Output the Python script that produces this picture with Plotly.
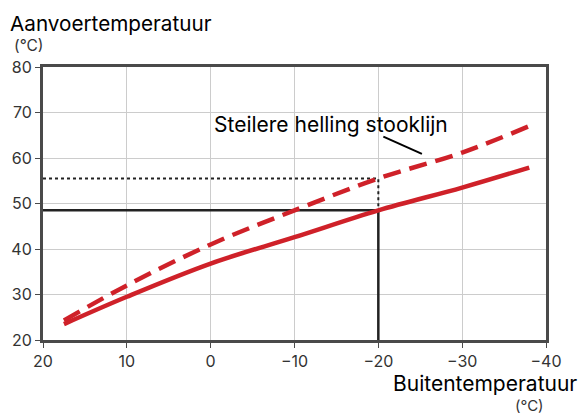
import plotly.graph_objects as go

# Outdoor temperature (°C) and supply temperature (°C) for the two heating curves
outdoor = [17.5, 10, 0, -10, -20, -30, -38]
curve_normal = [23.5, 29.5, 36.8, 42.6, 48.5, 53.5, 57.9]
curve_steep = [24.3, 32.0, 41.0, 48.5, 55.5, 61.2, 67.0]

# Design point readings
design_outdoor = -20
design_normal = 48.5
design_steep = 55.5

x_ticks = [20, 10, 0, -10, -20, -30, -40]
y_ticks = [20, 30, 40, 50, 60, 70, 80]

RED = "#cf2129"
DARK = "#222222"
FRAME = "#4a4a4a"
FONT = "Inter"

fig = go.Figure()

# Reference lines for the design point
fig.add_trace(go.Scatter(
    x=[20, design_outdoor, design_outdoor], y=[design_steep, design_steep, design_normal],
    mode="lines", line=dict(color=DARK, width=2, dash="3px,3px"), hoverinfo="skip"))
fig.add_trace(go.Scatter(
    x=[20, design_outdoor, design_outdoor], y=[design_normal, design_normal, 20],
    mode="lines", line=dict(color=DARK, width=2.5), hoverinfo="skip"))

fig.add_trace(go.Scatter(
    x=outdoor, y=curve_normal, mode="lines", line=dict(color=RED, width=4.5, shape="spline")))
fig.add_trace(go.Scatter(
    x=outdoor, y=curve_steep, mode="lines",
    line=dict(color=RED, width=4.5, dash="18px,9px", shape="spline")))

# Label with leader line
fig.add_shape(type="line", x0=-20.6, y0=64.7, x1=-25.2, y1=60.9,
              line=dict(color="black", width=2))
fig.add_annotation(x=-14.3, y=67.3, text="Steilere helling stooklijn", showarrow=False,
                   font=dict(family=FONT, size=21, color="black"), xanchor="center", yanchor="middle")

# Axis titles and units
fig.add_annotation(xref="paper", yref="paper", x=-0.07, y=1.16, text="Aanvoertemperatuur",
                   showarrow=False, xanchor="left", yanchor="middle",
                   font=dict(family=FONT, size=20.7, color="black"))
fig.add_annotation(xref="paper", yref="paper", x=-0.062, y=1.077, text="(°C)",
                   showarrow=False, xanchor="left", yanchor="middle",
                   font=dict(family=FONT, size=15.5, color="#333333"))
fig.add_annotation(xref="paper", yref="paper", x=1.066, y=-0.16, text="Buitentemperatuur",
                   showarrow=False, xanchor="right", yanchor="middle",
                   font=dict(family=FONT, size=21, color="black"))
fig.add_annotation(xref="paper", yref="paper", x=1.0, y=-0.24, text="(°C)",
                   showarrow=False, xanchor="right", yanchor="middle",
                   font=dict(family=FONT, size=15, color="#333333"))

fig.update_xaxes(range=[20, -40], tickvals=x_ticks, showgrid=True, gridcolor="#cccccc", gridwidth=1,
                 showline=True, linecolor=FRAME, linewidth=3, mirror=True,
                 ticks="outside", ticklen=5, tickcolor=FRAME, zeroline=False,
                 tickfont=dict(family=FONT, size=16, color="#333333"))
fig.update_yaxes(range=[20, 80], tickvals=y_ticks, showgrid=True, gridcolor="#cccccc", gridwidth=1,
                 showline=True, linecolor=FRAME, linewidth=3, mirror=True,
                 ticks="outside", ticklen=5, tickcolor=FRAME, zeroline=False,
                 tickfont=dict(family=FONT, size=16, color="#333333"))

fig.update_layout(width=581, height=417, showlegend=False,
                  margin=dict(l=43, r=35, t=67, b=77),
                  plot_bgcolor="white", paper_bgcolor="white")

fig.write_html("out.html")
